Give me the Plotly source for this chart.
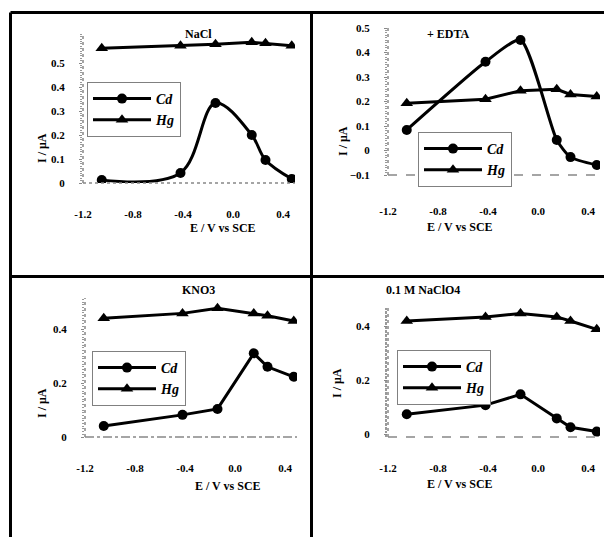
import plotly.graph_objects as go

# shared potential axis (V)
potential = [-1.05, -0.42, -0.14, 0.15, 0.26, 0.47]
x_ticks = [-1.2, -0.8, -0.4, 0.0, 0.4]

# panel values
cd_a = [0.012, 0.042, 0.333, 0.200, 0.096, 0.017]
hg_a = [0.561, 0.572, 0.578, 0.586, 0.582, 0.572]
cd_b = [0.084, 0.362, 0.451, 0.043, -0.027, -0.059]
hg_b = [0.193, 0.209, 0.244, 0.250, 0.229, 0.220]
cd_c = [0.041, 0.082, 0.104, 0.310, 0.260, 0.223]
hg_c = [0.440, 0.458, 0.477, 0.458, 0.449, 0.430]
cd_d = [0.073, 0.107, 0.147, 0.058, 0.025, 0.009]
hg_d = [0.419, 0.434, 0.447, 0.434, 0.419, 0.388]

titles = ["NaCl", "+ EDTA", "KNO3", "0.1 M NaClO4"]
x_title = "E / V vs SCE"
y_title = "I / μA"

# page body has an 8px margin, so the figure is drawn 8px in from the corner
OFF = 8
W, H = 612 - OFF, 537 - OFF
SERIF = "Liberation Serif"


def px(v):
    return (v - OFF) / W


def py(v):
    return 1 - (v - OFF) / H


panels = [
    dict(cd=cd_a, hg=hg_a, xd=(83, 295), yd=(183, 33), yr=[0, 0.625],
         yt=[0, 0.1, 0.2, 0.3, 0.4, 0.5], shape="spline", base="dot",
         leg=(87, 82), title=(183, 25), xt=(188, 228), yt_pos=(33, 131), xstand=23),
    dict(cd=cd_b, hg=hg_b, xd=(388, 600), yd=(175, 28), yr=[-0.1, 0.5],
         yt=[-0.1, 0, 0.1, 0.2, 0.3, 0.4, 0.5], shape="spline", base="dash",
         leg=(418, 132), title=(472, 25), xt=(495, 227), yt_pos=(343, 124), xstand=28),
    dict(cd=cd_c, hg=hg_c, xd=(85, 297), yd=(437, 298), yr=[0, 0.515],
         yt=[0, 0.2, 0.4], shape="linear", base="dashdot",
         leg=(92, 351), title=(180, 290), xt=(193, 495), yt_pos=(33, 420), xstand=23),
    dict(cd=cd_d, hg=hg_d, xd=(388, 600), yd=(437, 308), yr=[-0.011, 0.467],
         yt=[0, 0.2, 0.4], shape="linear", base="dash",
         leg=(397, 350), title=(462, 290), xt=(495, 493), yt_pos=(337, 400), xstand=23),
]

fig = go.Figure()
layout = dict(width=W, height=H, margin=dict(l=0, r=0, t=0, b=0, pad=0),
              paper_bgcolor="white", plot_bgcolor="white", showlegend=True)
shapes = []
annotations = []
tick_font = dict(family=SERIF, size=11, color="black", weight="bold")

for i, p in enumerate(panels, start=1):
    sfx = "" if i == 1 else str(i)
    leg = "legend" if i == 1 else "legend%d" % i
    smooth = 1.0 if i == 1 else 0.6
    fig.add_trace(go.Scatter(
        x=potential, y=p["cd"], name="Cd", mode="lines+markers",
        xaxis="x" + sfx, yaxis="y" + sfx, legend=leg,
        line=dict(color="black", width=3, shape=p["shape"],
                  smoothing=smooth if p["shape"] == "spline" else None),
        marker=dict(symbol="circle", size=10, color="black")))
    fig.add_trace(go.Scatter(
        x=potential, y=p["hg"], name="Hg", mode="lines+markers",
        xaxis="x" + sfx, yaxis="y" + sfx, legend=leg,
        line=dict(color="black", width=3),
        marker=dict(symbol="triangle-up", size=11, color="black")))

    layout["xaxis" + sfx] = dict(
        domain=[px(p["xd"][0]), px(p["xd"][1])], range=[-1.2, 0.496],
        anchor="y" + sfx, tickvals=x_ticks, automargin=False,
        ticktext=["-1.2", "-0.8", "-0.4", "0.0", "0.4"],
        showgrid=False, zeroline=False, showline=False, ticks="",
        ticklabelstandoff=p["xstand"], tickfont=tick_font)
    layout["yaxis" + sfx] = dict(
        domain=[py(p["yd"][0]), py(p["yd"][1])], range=p["yr"],
        anchor="x" + sfx, tickvals=p["yt"], automargin=False,
        showgrid=False, zeroline=False, showline=False,
        ticks="outside", ticklen=3, tickcolor="#888888",
        minor=dict(ticks="outside", ticklen=2, tickcolor="#999999", nticks=20),
        ticklabelstandoff=12, tickfont=tick_font)
    layout[leg] = dict(
        x=px(p["leg"][0]), y=py(p["leg"][1]), xanchor="left", yanchor="top",
        xref="paper", yref="paper", bgcolor="white",
        bordercolor="#808080", borderwidth=1, itemwidth=58,
        font=dict(family=SERIF, size=14, color="black", style="italic", weight="bold"))

    # dotted value axis and dashed base line
    shapes.append(dict(type="line", xref="x%s domain" % sfx, yref="y%s domain" % sfx,
                       x0=0, x1=0, y0=0, y1=1,
                       line=dict(color="#888888", width=1.5, dash="dot")))
    shapes.append(dict(type="line", xref="x%s domain" % sfx, yref="y%s domain" % sfx,
                       x0=0, x1=1, y0=0, y1=0,
                       line=dict(color="#888888", width=1.5, dash=p["base"])))

    annotations.append(dict(text=titles[i - 1], x=px(p["title"][0]), y=py(p["title"][1]),
                            xref="paper", yref="paper", showarrow=False,
                            font=dict(family=SERIF, size=12, color="black", weight="bold")))
    annotations.append(dict(text=x_title, x=px(p["xt"][0]), y=py(p["xt"][1]),
                            xref="paper", yref="paper", showarrow=False,
                            font=dict(family=SERIF, size=12, color="black", weight="bold")))
    annotations.append(dict(text=y_title, x=px(p["yt_pos"][0]), y=py(p["yt_pos"][1]),
                            xref="paper", yref="paper", showarrow=False, textangle=-90,
                            font=dict(family=SERIF, size=12, color="black", weight="bold")))

# table frame around the four panels
frame = [(10.5, 12.5, 10.5, 537), (10.5, 12.5, 612, 12.5),
         (311.5, 12.5, 311.5, 537), (10.5, 276.5, 612, 276.5)]
for x0, y0, x1, y1 in frame:
    shapes.append(dict(type="line", xref="paper", yref="paper",
                       x0=px(x0), y0=py(y0), x1=px(x1), y1=py(y1),
                       line=dict(color="black", width=3)))

layout["shapes"] = shapes
layout["annotations"] = annotations
fig.update_layout(**layout)

fig.write_html("out.html")
